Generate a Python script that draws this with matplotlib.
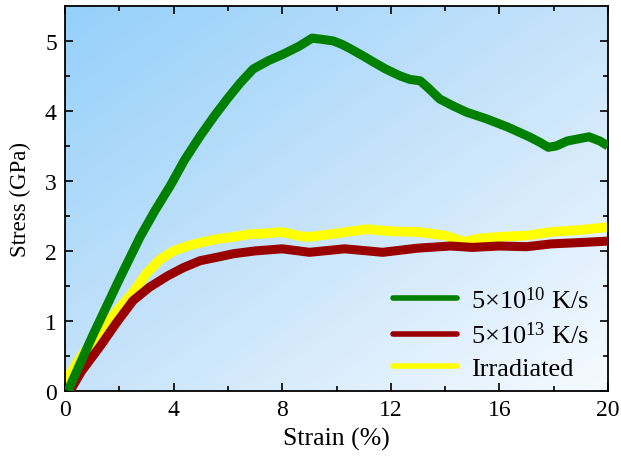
import matplotlib
matplotlib.use("Agg")
import matplotlib.pyplot as plt
import numpy as np
from matplotlib.colors import LinearSegmentedColormap

# stress-strain curves (strain in %, stress in GPa)
strain_slow = [0.1, 1.0, 2.0, 2.76, 3.3, 3.87, 4.4, 4.97, 5.5, 5.97, 6.45, 6.93, 7.5, 8.03,
               8.6, 9.1, 9.5, 9.87, 10.2, 10.5, 11.0, 11.35, 11.8, 12.34, 12.7, 13.08, 13.4,
               13.8, 14.3, 14.8, 15.5, 16.3, 16.7, 17.1, 17.5, 17.8, 18.1, 18.5, 18.9, 19.3,
               19.7, 20.0]
stress_slow = [0.0, 0.78, 1.6, 2.2, 2.57, 2.93, 3.3, 3.64, 3.93, 4.17, 4.4, 4.6, 4.72, 4.81,
               4.92, 5.04, 5.02, 5.0, 4.95, 4.89, 4.78, 4.7, 4.6, 4.5, 4.45, 4.43, 4.32,
               4.17, 4.07, 3.98, 3.89, 3.77, 3.7, 3.63, 3.55, 3.48, 3.5, 3.57, 3.6, 3.63,
               3.57, 3.5]

strain_fast = [0.18, 0.6, 1.29, 1.9, 2.5, 3.1, 3.76, 4.35, 4.97, 5.6, 6.2, 7.0, 8.0, 9.0,
               10.3, 11.7, 13.0, 14.2, 15.0, 16.0, 17.0, 17.9, 19.0, 20.0]
stress_fast = [0.0, 0.28, 0.64, 0.98, 1.29, 1.48, 1.64, 1.76, 1.86, 1.91, 1.96, 2.0, 2.03, 1.98,
               2.03, 1.98, 2.04, 2.07, 2.05, 2.07, 2.06, 2.1, 2.12, 2.14]

strain_irr = [0.0, 0.07, 0.6, 1.29, 1.9, 2.5, 3.0, 3.5, 4.0, 4.5, 5.0, 5.6, 6.2, 6.8, 7.4, 8.0,
              8.66, 9.0, 10.0, 11.1, 12.0, 13.0, 14.0, 14.7, 15.3, 16.0, 17.0, 17.9, 19.0, 20.0]
stress_irr = [0.05, 0.17, 0.5, 0.84, 1.14, 1.41, 1.68, 1.88, 2.0, 2.07, 2.12, 2.17, 2.2, 2.24,
              2.25, 2.27, 2.21, 2.2, 2.25, 2.31, 2.28, 2.27, 2.22, 2.13, 2.18, 2.2, 2.22, 2.27,
              2.3, 2.34]

labels = [r"5$\times$10$^{10}$ K/s", r"5$\times$10$^{13}$ K/s", "Irradiated"]
colors = ["#008000", "#990000", "#ffff00"]

plt.rcParams["font.family"] = ["Liberation Serif", "DejaVu Serif"]
plt.rcParams["mathtext.fontset"] = "custom"
plt.rcParams["mathtext.rm"] = "Liberation Serif"
plt.rcParams["mathtext.it"] = "Liberation Serif:italic"

fig, ax = plt.subplots(figsize=(6.21, 4.60), dpi=100)
fig.subplots_adjust(left=0.105, right=0.979, top=0.985, bottom=0.148)

# diagonal blue -> white background
bg = LinearSegmentedColormap.from_list("bg", ["#95d0fb", "#c6e3fa", "#f5faff"])
gx, gy = np.meshgrid(np.linspace(0, 1, 200), np.linspace(0, 1, 200))
grad = (gx + gy) / 2
ax.imshow(grad, cmap=bg, extent=[0, 1, 0, 1], transform=ax.transAxes,
          aspect="auto", origin="upper", zorder=0, interpolation="bicubic")

ax.plot(strain_irr, stress_irr, color=colors[2], lw=7, solid_capstyle="butt",
        solid_joinstyle="round", zorder=2)
ax.plot(strain_fast, stress_fast, color=colors[1], lw=6.5, solid_capstyle="butt",
        solid_joinstyle="round", zorder=3)
ax.plot(strain_slow, stress_slow, color=colors[0], lw=6.5, solid_capstyle="butt",
        solid_joinstyle="round", zorder=4)

handles = [plt.Line2D([], [], color=c, lw=4, solid_capstyle="round") for c in colors]
ax.legend(handles, labels, loc="lower right", frameon=False, fontsize=19,
          handlelength=2.4, handletextpad=0.55, labelspacing=0.34,
          borderaxespad=0.0, bbox_to_anchor=(0.985, 0.0))

ax.set_xlim(0, 20)
ax.set_ylim(0, 5.5)
ax.set_xticks([0, 4, 8, 12, 16, 20])
ax.set_xticks(np.arange(2, 20, 4), minor=True)
ax.set_yticks([0, 1, 2, 3, 4, 5])
ax.set_yticks(np.arange(0.5, 5.5, 1), minor=True)
ax.tick_params(which="both", direction="in", top=True, right=True, width=1.2, labelsize=17)
ax.tick_params(which="major", length=6, pad=6)
ax.tick_params(which="minor", length=3.5)
for s in ax.spines.values():
    s.set_linewidth(1.3)

ax.set_xlabel("Strain (%)", fontsize=18.5, labelpad=5)
ax.set_ylabel("Stress (GPa)", fontsize=16.5, labelpad=10)

fig.savefig("out.png", dpi=100)
